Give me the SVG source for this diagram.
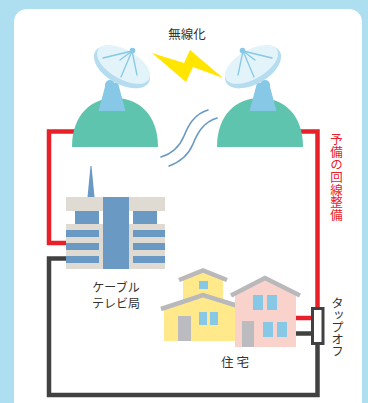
<svg xmlns="http://www.w3.org/2000/svg" xmlns:xlink="http://www.w3.org/1999/xlink" width="368" height="403" viewBox="0 0 368 403">
  <defs>
    <style>
      .lbl { font-family: "Noto Sans CJK JP", "Noto Sans", sans-serif; font-size: 12.5px; fill: #333333; }
      .vert { writing-mode: vertical-rl; }
      .note { fill: #e8202a; letter-spacing: 0.2px; }
      .red { fill: none; stroke: #e8202a; stroke-width: 4.5; stroke-linejoin: miter; }
      .coax { fill: none; stroke: #414141; stroke-width: 4.5; stroke-linejoin: miter; }
      .wave { fill: none; stroke: #6a9ac4; stroke-width: 1.6; stroke-linecap: round; }
      .win { fill: #86c8e6; }
      .door { fill: #bcbcc0; }
      .roof { fill: none; stroke: #b9b9bb; stroke-width: 4.5; stroke-linejoin: miter; }
      .bldg-b { fill: #e0dbd2; }
      .bldg-s { fill: #6a9ac4; }
    </style>
    <!-- parabolic antenna on a hill, facing to the right -->
    <g id="antenna">
      <path d="M72,147 C72,114 92,98 115,98 C138,98 158,114 158,147 Z" fill="#5ec4ae"/>
      <circle cx="110" cy="85" r="5" fill="#86c8e6"/>
      <polygon points="106,83 118,83 125.5,111 98.5,111" fill="#86c8e6"/>
      <ellipse cx="122" cy="67" rx="31" ry="17" transform="rotate(30 122 67)" fill="#b5ddef"/>
      <ellipse cx="123.5" cy="64.5" rx="29.5" ry="14.5" transform="rotate(30 123.5 64.5)" fill="#e3f3fa"/>
      <g stroke="#86c8e6" stroke-width="1.3" stroke-linecap="round">
        <line x1="132" y1="51" x2="103" y2="58"/>
        <line x1="132" y1="51" x2="120" y2="60"/>
        <line x1="132" y1="51" x2="121" y2="77"/>
        <line x1="132" y1="51" x2="137" y2="75"/>
      </g>
      <circle cx="132.5" cy="50.5" r="2.8" fill="#86c8e6"/>
    </g>
  </defs>

  <!-- frame -->
  <rect x="0" y="0" width="368" height="403" fill="#aedff0"/>
  <rect x="14" y="9" width="348" height="420" rx="13" ry="13" fill="#ffffff"/>

  <!-- connectors -->
  <g id="connectors">
    <path class="red" d="M112.5,111 V131.5 H49 V243 H67"/>
    <path class="red" d="M262.5,111 V131.5 H317.5 V308"/>
    <path class="red" d="M296,318 H312"/>
    <path class="coax" d="M296,333.5 H312"/>
    <path class="coax" d="M317.5,343 V395 H49 V258.5 H67"/>
  </g>

  <!-- wireless link -->
  <g id="wireless">
    <text class="lbl" x="187" y="39" text-anchor="middle">無線化</text>
    <polygon points="152,53 184,63 190,50 223,78 193,67 186,82" fill="#ffe500"/>
    <path class="wave" d="M208,110 C194,114 188,126 184,136 C179,148 171,154 161,157"/>
    <path class="wave" d="M217,118 C203,122 197,134 193,144 C188,156 180,162 169,166"/>
  </g>

  <g id="antenna-left">
    <use xlink:href="#antenna"/>
  </g>
  <g id="antenna-right">
    <use xlink:href="#antenna" transform="translate(375,0) scale(-1,1)"/>
  </g>

  <!-- backup line note, set in a column -->
  <text class="lbl vert note" x="336.5" y="133">予備の回線整備</text>

  <!-- cable TV station -->
  <g id="station">
    <path d="M90.5,166 L91.5,166 L94.5,197 L87.5,197 Z" class="bldg-s"/>
    <rect class="bldg-b" x="66" y="197" width="99" height="14"/>
    <rect class="bldg-s" x="75" y="211" width="24" height="13"/>
    <rect class="bldg-s" x="133" y="211" width="24" height="13"/>
    <rect class="bldg-b" x="66" y="224" width="99" height="45"/>
    <rect class="bldg-s" x="66" y="230" width="33" height="7"/>
    <rect class="bldg-s" x="66" y="243" width="33" height="7"/>
    <rect class="bldg-s" x="66" y="256" width="33" height="7"/>
    <rect class="bldg-s" x="133" y="230" width="32" height="7"/>
    <rect class="bldg-s" x="133" y="243" width="32" height="7"/>
    <rect class="bldg-s" x="133" y="256" width="32" height="7"/>
    <rect class="bldg-s" x="103" y="197" width="26" height="72"/>
    <text class="lbl" x="116" y="291.5" text-anchor="middle" style="font-size:12px">ケーブル</text>
    <text class="lbl" x="116" y="308" text-anchor="middle" style="font-size:12px">テレビ局</text>
  </g>

  <!-- houses -->
  <g id="houses">
    <!-- yellow house, tower -->
    <polygon points="183,278 203,271 223,278 223,300 183,300" fill="#ffe98a"/>
    <polyline class="roof" points="179,280 203,270.5 227,280"/>
    <rect class="win" x="199" y="281" width="9" height="8"/>
    <!-- yellow house, main -->
    <polygon points="164,307 203,295 235,305 235,341 164,341" fill="#ffe98a"/>
    <polyline class="roof" points="161,309 203,295 238,306"/>
    <rect class="door" x="178" y="316" width="13" height="25"/>
    <rect class="win" x="199" y="312" width="8" height="13"/>
    <rect class="win" x="210" y="312" width="8" height="13"/>
    <!-- pink house -->
    <polygon points="235,294 265,279 296,294 296,347 235,347" fill="#f9d3cb"/>
    <polyline class="roof" points="231,295.5 265,278 300,295.5"/>
    <rect class="win" x="253" y="295" width="10" height="15"/>
    <rect class="win" x="267" y="295" width="10" height="15"/>
    <rect class="win" x="263" y="322" width="10" height="15"/>
    <rect class="win" x="277" y="322" width="10" height="15"/>
    <rect class="door" x="242" y="321" width="12" height="26"/>
    <text class="lbl" x="235" y="367" text-anchor="middle">住 宅</text>
  </g>

  <!-- tap-off -->
  <g id="tapoff">
    <rect x="312.5" y="308.5" width="10.5" height="35" fill="#ffffff" stroke="#414141" stroke-width="3"/>
    <text class="lbl vert" x="337.5" y="297" style="letter-spacing:-0.5px">タップオフ</text>
  </g>
</svg>
